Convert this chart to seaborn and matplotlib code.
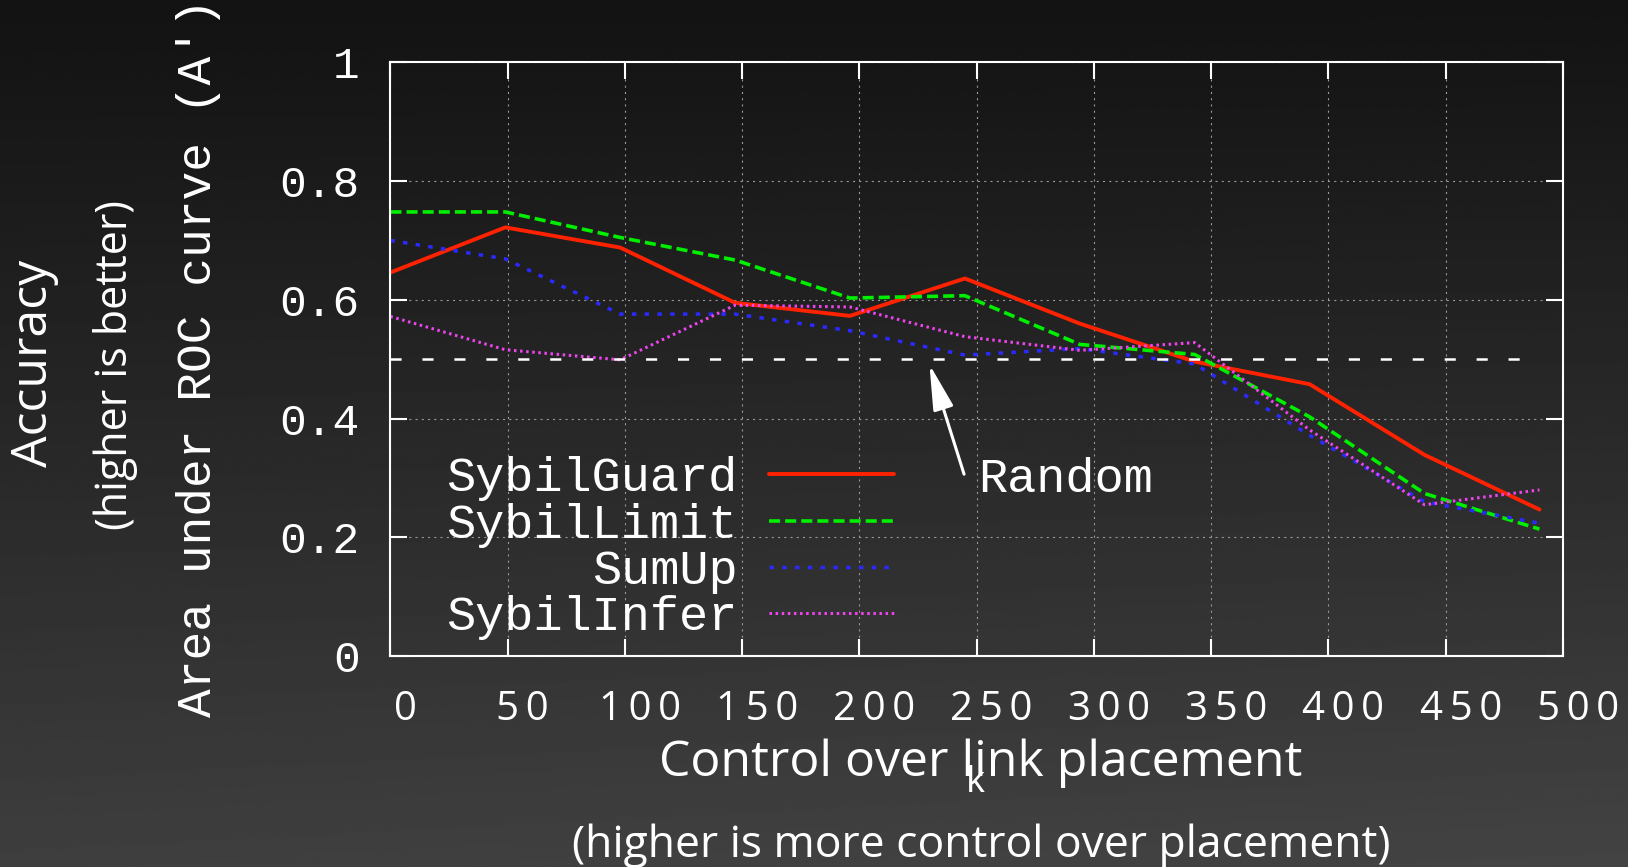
import numpy as np
import pandas as pd
import seaborn as sns
import matplotlib.pyplot as plt
import matplotlib.transforms as mtransforms

# k values (control over link placement)
k_values = [0, 49, 98, 147, 196, 245, 294, 343, 392, 441, 490]

# area under ROC curve for each method
sybilguard = [0.646, 0.722, 0.688, 0.595, 0.573, 0.636, 0.560, 0.496, 0.458, 0.339, 0.247]
sybillimit = [0.748, 0.748, 0.705, 0.667, 0.603, 0.607, 0.525, 0.508, 0.403, 0.274, 0.214]
sumup = [0.700, 0.669, 0.576, 0.576, 0.548, 0.507, 0.518, 0.492, 0.372, 0.260, 0.224]
sybilinfer = [0.572, 0.516, 0.499, 0.591, 0.588, 0.538, 0.515, 0.528, 0.381, 0.255, 0.280]

methods = ['SybilGuard', 'SybilLimit', 'SumUp', 'SybilInfer']
colors = ['#ff2200', '#00ee00', '#2a2aff', '#ee44ee']

# random-guess reference line and its annotation
random_x = [0, 483]
random_y = [0.5, 0.5]
arrow_tip = (229.5, 0.496)
arrow_tail = (245, 0.302)

x_ticks = [0, 50, 100, 150, 200, 250, 300, 350, 400, 450, 500]
y_ticks = [0, 0.2, 0.4, 0.6, 0.8, 1]
y_tick_labels = ['0', '0.2', '0.4', '0.6', '0.8', '1']

df = pd.DataFrame({
    'k': k_values * 4,
    'auc': sybilguard + sybillimit + sumup + sybilinfer,
    'method': [m for m in methods for _ in k_values],
})

sns.set_style('dark')
plt.rcParams['lines.scale_dashes'] = False
mono = 'Liberation Mono'
sans = ['Open Sans', 'DejaVu Sans']

fig = plt.figure(figsize=(16.28, 8.67), dpi=100)

# dark gradient background
bg = fig.add_axes([0, 0, 1, 1], zorder=-10)
yy = np.linspace(0, 1, 300)[:, None]
xx = np.linspace(0, 1, 400)[None, :]
grad = 0.075 + 0.17 * yy ** 1.1 + 0.02 * xx * yy
bg.imshow(grad, cmap='gray', vmin=0, vmax=1, aspect='auto', extent=[0, 1, 0, 1], origin='upper')
bg.set_axis_off()

ax = fig.add_axes([0.2398, 0.2431, 0.7202, 0.6851])
ax.set_facecolor('none')

styles = {
    'SybilGuard': dict(linestyle='-', linewidth=2.8),
    'SybilLimit': dict(linestyle=(0, (8, 3.6)), linewidth=2.6),
    'SumUp': dict(linestyle=(0, (3.2, 6)), linewidth=2.5),
    'SybilInfer': dict(linestyle=(0, (1.8, 2.6)), linewidth=2.2),
}

for method, color in zip(methods, colors):
    sub = df[df['method'] == method]
    sns.lineplot(data=sub, x='k', y='auc', color=color, label=method, ax=ax,
                 **styles[method])

ax.plot(random_x, random_y, color='white', linewidth=1.8, linestyle=(0, (8, 15)))

ax.annotate('', xy=arrow_tip, xytext=arrow_tail,
            arrowprops=dict(arrowstyle='-|>,head_length=0.8,head_width=0.18',
                            color='white', lw=2.2, mutation_scale=35))
ax.text(250.7, 0.297, 'Random', color='white', fontsize=35, family=mono,
        va='center', ha='left')

ax.set_xlim(0, 500)
ax.set_ylim(0, 1)
ax.set_xticks(x_ticks)
ax.set_xticklabels(['\u2009'.join(str(t)) for t in x_ticks], family=sans,
                   fontsize=29, color='white')
ax.set_yticks(y_ticks)
ax.set_yticklabels(y_tick_labels, family=mono, fontsize=32, color='white')

ax.tick_params(axis='both', which='major', direction='in', length=12, width=1.5,
               colors='white', top=True, right=True, bottom=True, left=True)
ax.tick_params(axis='x', pad=24)
ax.tick_params(axis='y', pad=22)

# gnuplot-style labels sit a little right of their ticks
shift = mtransforms.ScaledTranslation(15 / 100, 0, fig.dpi_scale_trans)
for lab in ax.get_xticklabels():
    lab.set_transform(lab.get_transform() + shift)

for sp in ax.spines.values():
    sp.set_color('white')
    sp.set_linewidth(1.5)
    sp.set_visible(True)

ax.grid(True, color='#9a9a9a', linestyle=(0, (1.5, 3)), linewidth=0.8)
ax.set_xlabel('')
ax.set_ylabel('')

leg = ax.legend(loc='upper right', bbox_to_anchor=(0.4293, 0.337), markerfirst=False,
                frameon=False, prop={'family': mono, 'size': 35}, handlelength=2.57,
                handletextpad=0.64, labelspacing=0.03, borderpad=0, borderaxespad=0)
for t in leg.get_texts():
    t.set_color('white')

# axis titles
fig.text(981 / 1628, 1 - 763 / 867, 'Control over link placement', family=sans,
         fontsize=36, color='white', ha='center', va='center')
fig.text(976 / 1628, 1 - 783 / 867, 'k', family=mono, fontsize=26, color='white',
         ha='center', va='center')
fig.text(981 / 1628, 1 - 846 / 867, '(higher is more control over placement)',
         family=sans, fontsize=32, color='white', ha='center', va='center')
fig.text(34 / 1628, 1 - 363 / 867, 'Accuracy', family=sans, fontsize=36,
         color='white', ha='center', va='center', rotation=90)
fig.text(116 / 1628, 1 - 365 / 867, '(higher is better)', family=sans, fontsize=31,
         color='white', ha='center', va='center', rotation=90)
fig.text(199 / 1628, 1 - 358 / 867, "Area under ROC curve (A')", family=mono,
         fontsize=34.5, color='white', ha='center', va='center', rotation=90)

fig.savefig('out.png', dpi=100)
